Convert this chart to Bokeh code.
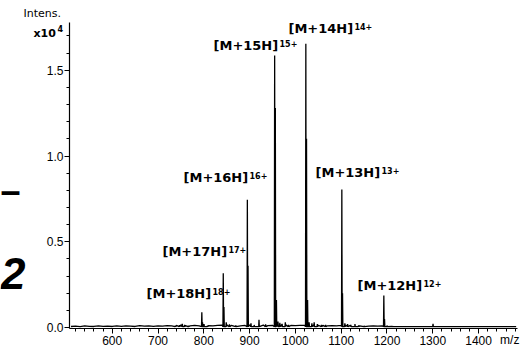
from bokeh.plotting import figure
from bokeh.models import FixedTicker, Label, NumeralTickFormatter
from bokeh.embed import file_html
from bokeh.resources import INLINE

# ---------------- data (intensity in units of 10^4) ----------------
charges = ["18+", "17+", "16+", "15+", "14+", "13+", "12+"]
ion_labels = ["[M+18H]", "[M+17H]", "[M+16H]", "[M+15H]", "[M+14H]", "[M+13H]", "[M+12H]"]
peak_mz = [795.7, 842.5, 895.1, 954.7, 1022.8, 1101.4, 1193.1]
peak_int = [0.089, 0.317, 0.745, 1.586, 1.654, 0.805, 0.187]

adduct_mz = [797.2, 844.0, 896.6, 956.2, 958.6, 1024.3, 1026.6, 1102.9, 1194.6]
adduct_int = [0.030, 0.120, 0.360, 1.280, 0.160, 1.100, 0.160, 0.200, 0.050]

minor_mz = [738, 747, 753, 758, 766, 800.5, 808, 849, 856, 870, 903, 910, 920.5,
            935, 962, 966, 971, 978, 985, 1030, 1036, 1041, 1048, 1057, 1066,
            1108, 1114, 1121, 1130, 1138, 1150, 1200, 1300.5]
minor_int = [0.010, 0.014, 0.022, 0.016, 0.010, 0.020, 0.010, 0.030, 0.018, 0.012,
             0.025, 0.015, 0.045, 0.018, 0.035, 0.028, 0.022, 0.030, 0.015, 0.030,
             0.025, 0.030, 0.020, 0.015, 0.015, 0.025, 0.020, 0.015, 0.020, 0.012,
             0.010, 0.012, 0.022]

noise_mz = list(range(510, 1211, 10))
noise_int = [0.006, 0.008, 0.005, 0.009, 0.007, 0.006, 0.010, 0.007, 0.008, 0.006,
             0.009, 0.007, 0.010, 0.008, 0.006, 0.011, 0.008, 0.009, 0.007, 0.010,
             0.008, 0.011, 0.009, 0.012, 0.015, 0.011, 0.009, 0.012, 0.010, 0.013,
             0.011, 0.009, 0.012, 0.014, 0.016, 0.012, 0.013, 0.010, 0.012, 0.016,
             0.013, 0.012, 0.014, 0.011, 0.013, 0.018, 0.016, 0.015, 0.012, 0.011,
             0.012, 0.013, 0.016, 0.015, 0.013, 0.012, 0.010, 0.011, 0.009, 0.012,
             0.014, 0.012, 0.011, 0.010, 0.009, 0.008, 0.009, 0.008, 0.009, 0.010,
             0.007]
baseline_level = 0.005
tail_mz = [1215, 1482]

x_ticks = [600, 700, 800, 900, 1000, 1100, 1200, 1300, 1400]
x_minor_ticks = list(range(520, 1481, 20))
y_ticks = [0.0, 0.5, 1.0, 1.5]
y_minor_ticks = [0.1, 0.2, 0.3, 0.4, 0.6, 0.7, 0.8, 0.9, 1.1, 1.2, 1.3, 1.4, 1.6, 1.7]

# axis extents (data units) and visible window
x_axis_bounds = (506.8, 1484.9)
y_axis_bounds = (-0.006, 1.778)
x_view = (356.1, 1504.6)
y_view = (-0.1224, 1.9067)

# label anchor positions (data coordinates: m/z, intensity)
label_x = [674.9, 709.8, 755.7, 821.2, 984.9, 1043.9, 1135.6]
label_y = [0.201, 0.443, 0.875, 1.644, 1.743, 0.904, 0.245]

# ---------------- build spectrum trace ----------------
pts = list(zip(noise_mz, noise_int)) + [(m, baseline_level) for m in tail_mz]
for mzs, ints in ((peak_mz, peak_int), (adduct_mz, adduct_int), (minor_mz, minor_int)):
    for m, h in zip(mzs, ints):
        pts += [(m - 0.7, baseline_level), (m, h), (m + 0.7, baseline_level)]
pts.sort()
sx = [a for a, b in pts]
sy = [b for a, b in pts]

# ---------------- figure ----------------
p = figure(width=526, height=348, x_range=x_view, y_range=y_view,
           output_backend="svg", toolbar_location=None,
           min_border=0, min_border_left=0, min_border_right=0,
           min_border_top=0, min_border_bottom=0)
p.outline_line_color = None
p.xgrid.visible = False
p.ygrid.visible = False
p.background_fill_color = "white"
p.border_fill_color = "white"

p.line(sx, sy, line_color="black", line_width=1.3)

for ax in (p.xaxis[0], p.yaxis[0]):
    ax.axis_line_color = "black"
    ax.axis_line_width = 1.2
    ax.major_tick_line_color = "black"
    ax.minor_tick_line_color = "black"
    ax.major_tick_in = 0
    ax.major_tick_out = 5
    ax.minor_tick_in = 0
    ax.minor_tick_out = 3
    ax.major_label_text_font = "Liberation Sans"
    ax.major_label_text_font_size = "12px"
    ax.major_label_text_color = "black"

xa = p.xaxis[0]
xa.ticker = FixedTicker(ticks=x_ticks, minor_ticks=x_minor_ticks)
xa.major_label_standoff = 2
xa.bounds = x_axis_bounds
xa.fixed_location = y_axis_bounds[0]

ya = p.yaxis[0]
ya.ticker = FixedTicker(ticks=y_ticks, minor_ticks=y_minor_ticks)
ya.formatter = NumeralTickFormatter(format="0.0")
ya.major_label_standoff = 1
ya.bounds = y_axis_bounds
ya.fixed_location = x_axis_bounds[0]

# peak labels
for t, s, lx, ly in zip(ion_labels, charges, label_x, label_y):
    p.add_layout(Label(x=lx, y=ly, text=t, text_font="DejaVu Sans", text_font_style="bold",
                       text_font_size="13px", text_baseline="middle", text_align="left",
                       text_color="black"))
    p.add_layout(Label(x=lx, y=ly, x_offset=66, y_offset=2, text=s, text_font="DejaVu Sans",
                       text_font_style="bold", text_font_size="8px", text_baseline="middle",
                       text_align="left", text_color="black"))

p.add_layout(Label(x=1468.0, y=-0.074, text="m/z",
                   text_font="Liberation Sans", text_font_size="12px",
                   text_baseline="middle", text_align="center", text_color="black"))
p.add_layout(Label(x=406.3, y=1.828, text="Intens.",
                   text_font="DejaVu Sans", text_font_size="11px",
                   text_baseline="middle", text_align="left", text_color="black"))
p.add_layout(Label(x=428.2, y=1.714, text="x10",
                   text_font="DejaVu Sans", text_font_style="bold", text_font_size="11px",
                   text_baseline="middle", text_align="left", text_color="black"))
p.add_layout(Label(x=480.6, y=1.743, text="4",
                   text_font="DejaVu Sans", text_font_style="bold", text_font_size="8px",
                   text_baseline="middle", text_align="left", text_color="black"))
p.add_layout(Label(x=356.1, y=0.799, text="\u2013",
                   text_font="Liberation Sans", text_font_style="bold", text_font_size="36px",
                   text_baseline="middle", text_align="left", text_color="black"))
p.add_layout(Label(x=357.0, y=0.315, text="2",
                   text_font="Liberation Sans", text_font_style="bold italic",
                   text_font_size="44px", text_baseline="middle", text_align="left",
                   text_color="black"))

open("out.html", "w").write(file_html(p, INLINE))
